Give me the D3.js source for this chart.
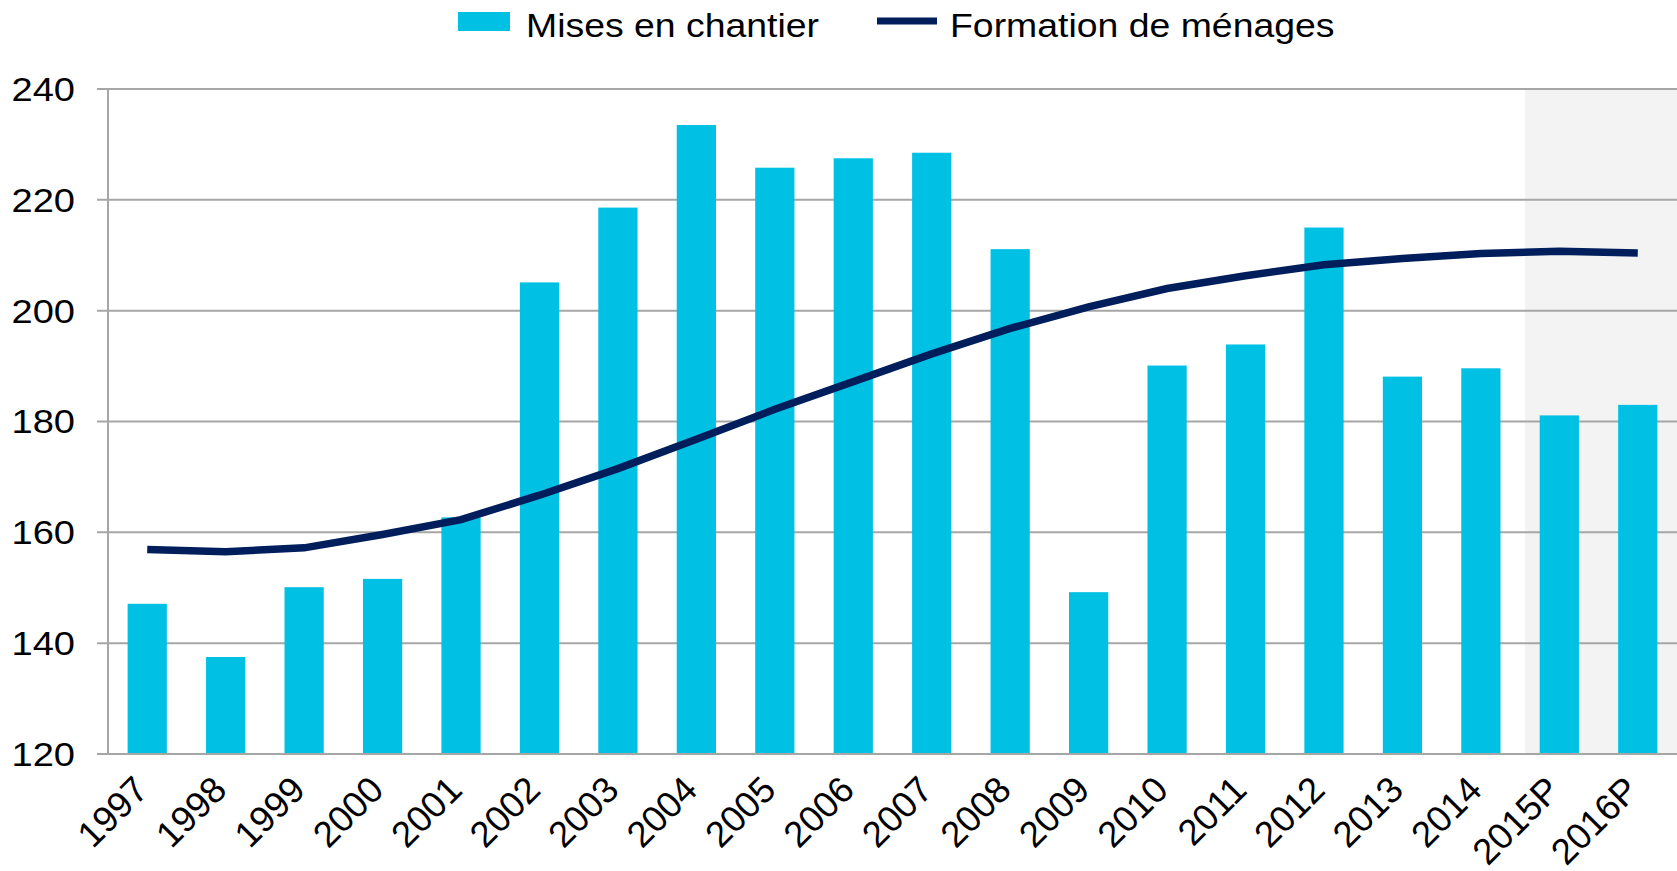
<!DOCTYPE html>
<html>
<head>
<meta charset="utf-8">
<script src="https://cdn.jsdelivr.net/npm/d3@7"></script>
<style>
    body { margin: 0; background: #fff; }
    text { font-family: "Liberation Sans", Arial, sans-serif; fill: #000; }
</style>
</head>
<body>
<div id="chart"></div>
<script>
// categories and series (thousands of units)
var years = ["1997", "1998", "1999", "2000", "2001", "2002", "2003", "2004", "2005", "2006",
             "2007", "2008", "2009", "2010", "2011", "2012", "2013", "2014", "2015P", "2016P"];
var misesEnChantier = [147.1, 137.5, 150.1, 151.6, 162.7, 205.1, 218.6, 233.5, 225.8, 227.5,
                       228.5, 211.1, 149.2, 190.1, 193.9, 215.0, 188.1, 189.6, 181.1, 183.0];
var formationMenages = [156.9, 156.5, 157.2, 159.6, 162.3, 166.7, 171.5, 176.8, 182.2, 187.2,
                        192.2, 196.8, 200.7, 204.0, 206.3, 208.3, 209.4, 210.3, 210.7, 210.4];
var yTicks = [120, 140, 160, 180, 200, 220, 240];
var forecastYears = ["2015P", "2016P"];
var seriesNames = ["Mises en chantier", "Formation de ménages"];

var width = 1677, height = 871;
var margin = {top: 89, right: 0, bottom: 117, left: 108};
var stretch = 1.1;   // the source text is a bit wider than plain Arial

var svg = d3.select("#chart").append("svg")
    .attr("width", width)
    .attr("height", height);

var x = d3.scaleBand()
    .domain(years)
    .range([margin.left, width - margin.right])
    .paddingInner(0.5)
    .paddingOuter(0.25);

var y = d3.scaleLinear()
    .domain([120, 240])
    .range([height - margin.bottom, margin.top]);

// shaded forecast zone
var shadeStart = x(forecastYears[0]) - x.step() * x.paddingInner() / 2 + 5;
svg.append("rect")
    .attr("x", shadeStart)
    .attr("y", y(240))
    .attr("width", width - margin.right - shadeStart)
    .attr("height", y(120) - y(240))
    .style("fill", "#f3f3f3");

// grid lines + left tick marks
svg.append("g")
    .selectAll("line")
    .data(yTicks)
    .enter().append("line")
    .attr("x1", margin.left - 11)
    .attr("x2", width - margin.right)
    .attr("y1", function(d) { return y(d); })
    .attr("y2", function(d) { return y(d); })
    .style("stroke", "#a6a6a6")
    .style("stroke-width", 2);

svg.append("line")
    .attr("x1", margin.left)
    .attr("x2", margin.left)
    .attr("y1", y(240))
    .attr("y2", y(120))
    .style("stroke", "#a6a6a6")
    .style("stroke-width", 2);

// y labels
svg.append("g")
    .selectAll("text")
    .data(yTicks)
    .enter().append("text")
    .attr("transform", function(d) {
        return "translate(75," + y(d) + ") scale(1.12,1)";
    })
    .attr("dy", "0.35em")
    .attr("text-anchor", "end")
    .style("font-size", "34px")
    .text(function(d) { return d; });

// bars
svg.append("g")
    .selectAll("rect")
    .data(years)
    .enter().append("rect")
    .attr("x", function(d) { return x(d); })
    .attr("y", function(d, i) { return y(misesEnChantier[i]); })
    .attr("width", x.bandwidth())
    .attr("height", function(d, i) { return y(120) - y(misesEnChantier[i]); })
    .style("fill", "#00c0e3");

// bottom axis line redrawn over bars
svg.append("line")
    .attr("x1", margin.left - 11)
    .attr("x2", width - margin.right)
    .attr("y1", y(120))
    .attr("y2", y(120))
    .style("stroke", "#a6a6a6")
    .style("stroke-width", 2);

// household formation line
var line = d3.line()
    .x(function(d, i) { return x(years[i]) + x.bandwidth() / 2; })
    .y(function(d) { return y(d); });

svg.append("path")
    .datum(formationMenages)
    .attr("d", line)
    .style("fill", "none")
    .style("stroke", "#001e5c")
    .style("stroke-width", 7.5);

// x labels, rotated
svg.append("g")
    .selectAll("text")
    .data(years)
    .enter().append("text")
    .attr("text-anchor", "end")
    .attr("transform", function(d) {
        var cx = x(d) + x.bandwidth() / 2 + 3;
        return "translate(" + cx + "," + (y(120) + 38) + ") rotate(-45)";
    })
    .style("font-size", "36.5px")
    .text(function(d) { return d; });

// legend
var legend = svg.append("g");
legend.append("rect")
    .attr("x", 458)
    .attr("y", 12)
    .attr("width", 52)
    .attr("height", 19)
    .style("fill", "#00c0e3");
legend.append("text")
    .attr("transform", "translate(526,37) scale(" + stretch + ",1)")
    .style("font-size", "34px")
    .text(seriesNames[0]);
legend.append("line")
    .attr("x1", 877)
    .attr("x2", 937)
    .attr("y1", 21)
    .attr("y2", 21)
    .style("stroke", "#001e5c")
    .style("stroke-width", 7);
legend.append("text")
    .attr("transform", "translate(950,37) scale(" + stretch + ",1)")
    .style("font-size", "34px")
    .text(seriesNames[1]);
</script>
</body>
</html>
